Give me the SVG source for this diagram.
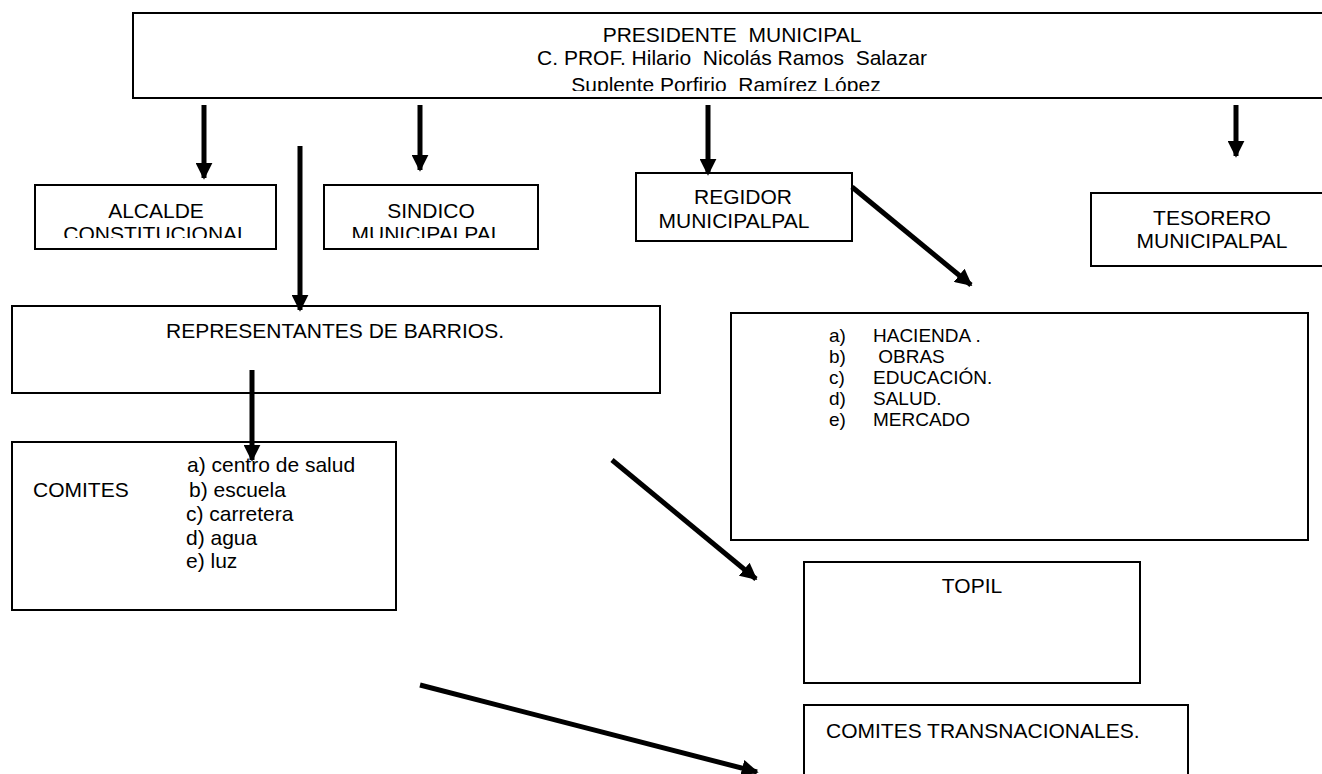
<svg xmlns="http://www.w3.org/2000/svg" width="1322" height="774" viewBox="0 0 1322 774">
<style>
.box{fill:#fff;stroke:#000;stroke-width:2}
.t{font-family:"Liberation Sans",Arial,sans-serif;font-size:21px;fill:#000;white-space:pre}
.c{text-anchor:middle}
.l{font-size:19px}
.arr{stroke:#000;stroke-width:5;fill:none;marker-end:url(#ah)}
</style>
<defs>
<marker id="ah" viewBox="0 0 10 10" refX="9" refY="5" markerUnits="userSpaceOnUse" markerWidth="17" markerHeight="17" orient="auto">
<path d="M0,0 L10,5 L0,10 z" fill="#000"/>
</marker>
<clipPath id="cTop"><rect x="133" y="13" width="1189" height="78"/></clipPath>
<clipPath id="cAl"><rect x="35" y="185" width="241" height="53"/></clipPath>
<clipPath id="cSi"><rect x="324" y="185" width="214" height="53"/></clipPath>
</defs>

<g id="presidente">
<rect class="box" x="133" y="13" width="1195" height="85"/>
<g clip-path="url(#cTop)">
<text class="t c" x="732" y="42" xml:space="preserve">PRESIDENTE  MUNICIPAL</text>
<text class="t c" x="732" y="65" xml:space="preserve">C. PROF. Hilario  Nicolás Ramos  Salazar</text>
<text class="t c" x="726" y="92" xml:space="preserve">Suplente Porfirio  Ramírez López</text>
</g>
</g>

<g id="alcalde">
<rect class="box" x="35" y="185" width="241" height="64"/>
<g clip-path="url(#cAl)">
<text class="t c" x="156" y="218">ALCALDE</text>
<text class="t c" x="156" y="241">CONSTITUCIONAL</text>
</g>
</g>

<g id="sindico">
<rect class="box" x="324" y="185" width="214" height="64"/>
<g clip-path="url(#cSi)">
<text class="t c" x="431" y="218">SINDICO</text>
<text class="t c" x="427" y="241">MUNICIPALPAL</text>
</g>
</g>

<g id="regidor">
<rect class="box" x="636" y="173" width="216" height="68"/>
<text class="t c" x="743" y="204">REGIDOR</text>
<text class="t c" x="734" y="228">MUNICIPALPAL</text>
</g>

<g id="tesorero">
<rect class="box" x="1091" y="193" width="240" height="73"/>
<text class="t c" x="1212" y="225">TESORERO</text>
<text class="t c" x="1212" y="248">MUNICIPALPAL</text>
</g>

<g id="representantes">
<rect class="box" x="12" y="306" width="648" height="87"/>
<text class="t c" x="335" y="338">REPRESENTANTES DE BARRIOS.</text>
</g>

<g id="comisiones">
<rect class="box" x="731" y="313" width="577" height="227"/>
<text class="t l" x="829" y="342">a)</text><text class="t l" x="873" y="342">HACIENDA .</text>
<text class="t l" x="829" y="363">b)</text><text class="t l" x="873" y="363" xml:space="preserve"> OBRAS</text>
<text class="t l" x="829" y="384">c)</text><text class="t l" x="873" y="384">EDUCACIÓN.</text>
<text class="t l" x="829" y="405">d)</text><text class="t l" x="873" y="405">SALUD.</text>
<text class="t l" x="829" y="426">e)</text><text class="t l" x="873" y="426">MERCADO</text>
</g>

<g id="comites">
<rect class="box" x="12" y="442" width="384" height="168"/>
<text class="t" x="33" y="497">COMITES</text>
<text class="t" x="187" y="472">a) centro de salud</text>
<text class="t" x="189" y="497">b) escuela</text>
<text class="t" x="186" y="521">c) carretera</text>
<text class="t" x="186" y="545">d) agua</text>
<text class="t" x="186" y="568">e) luz</text>
</g>

<g id="topil">
<rect class="box" x="804" y="562" width="336" height="121"/>
<text class="t c" x="972" y="593">TOPIL</text>
</g>

<g id="transnacionales">
<rect class="box" x="804" y="705" width="384" height="80"/>
<text class="t" x="826" y="738">COMITES TRANSNACIONALES.</text>
</g>

<g id="connectors">
<line class="arr" x1="204" y1="105" x2="204" y2="178"/>
<line class="arr" x1="300" y1="146" x2="300" y2="310"/>
<line class="arr" x1="420" y1="105" x2="420" y2="170"/>
<line class="arr" x1="708" y1="105" x2="708" y2="174"/>
<line class="arr" x1="1236" y1="105" x2="1236" y2="156"/>
<line class="arr" x1="252" y1="370" x2="252" y2="460"/>
<line class="arr" x1="852" y1="187" x2="971" y2="285"/>
<line class="arr" x1="612" y1="460" x2="756" y2="579"/>
<line class="arr" x1="420" y1="685" x2="757" y2="772"/>
</g>
</svg>
